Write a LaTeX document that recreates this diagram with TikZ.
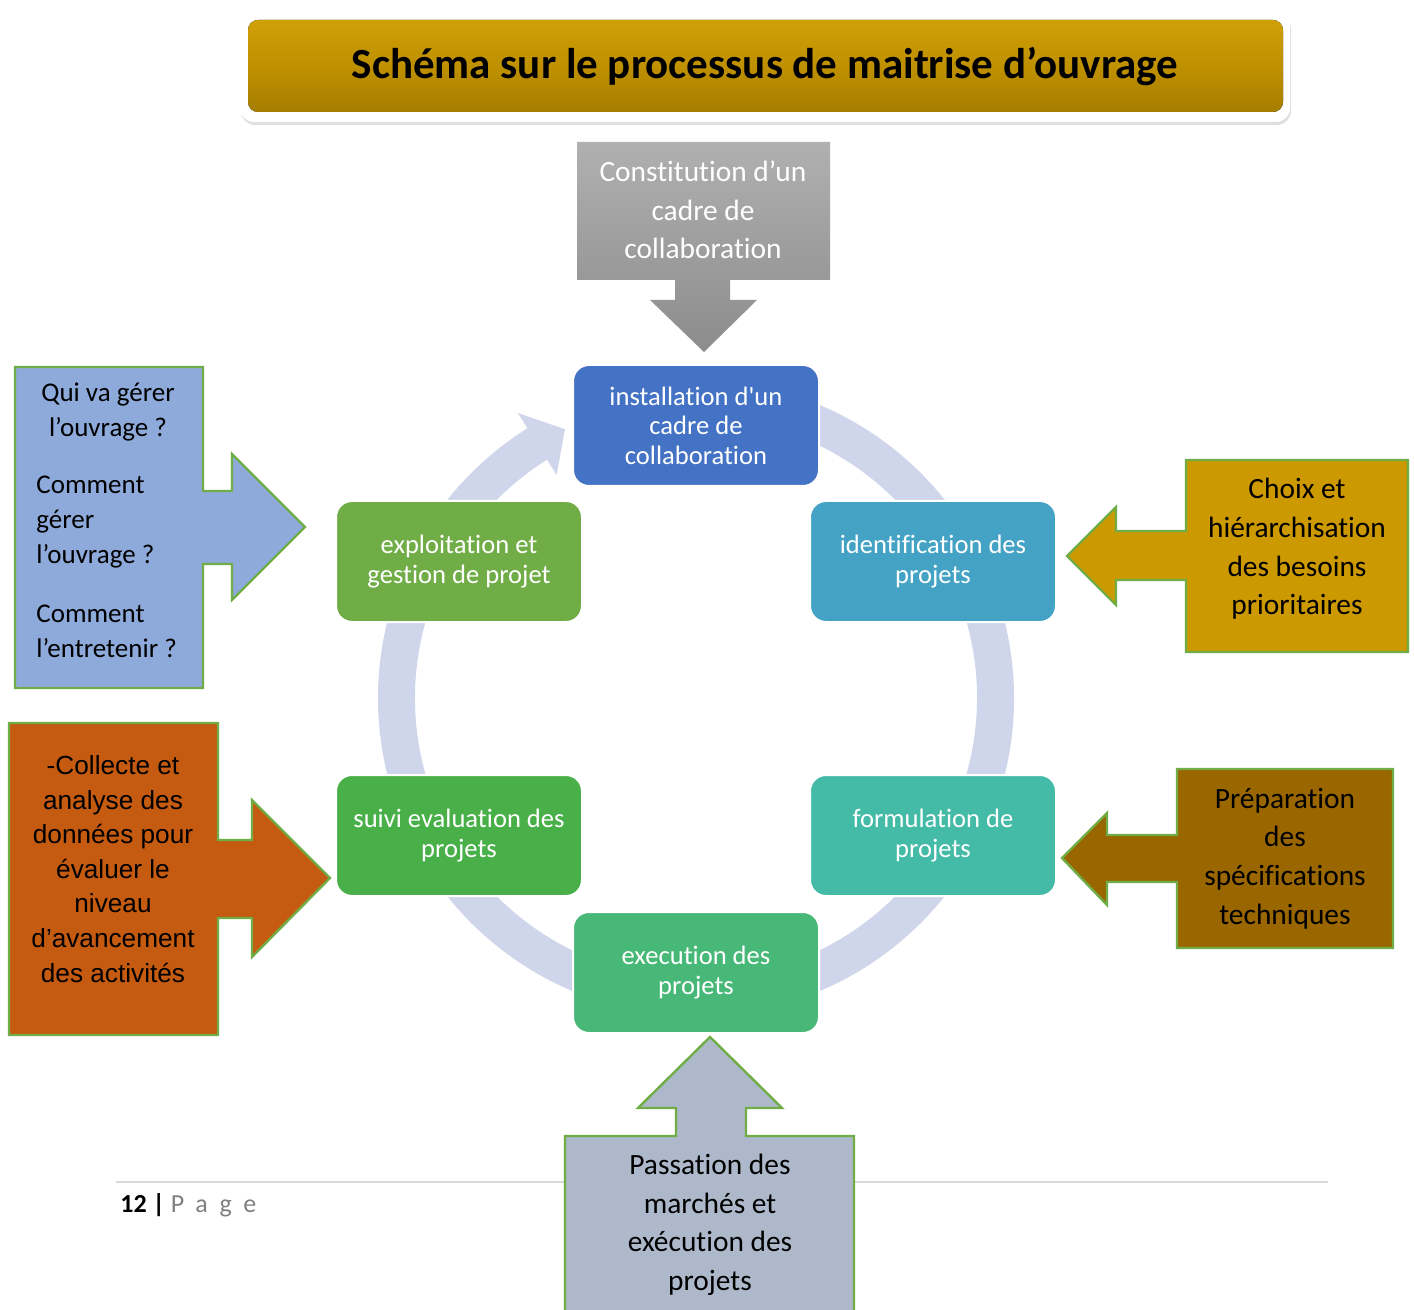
\documentclass[tikz,border=0pt]{standalone}
\usepackage{fontspec}
\setmainfont{Carlito}[Ligatures={TeX,NoCommon}]
\newfontfamily\tahomafont{Liberation Sans}
\usepackage{tikz}
\usetikzlibrary{shadows}

\begin{document}
\begin{tikzpicture}[x=0.5pt, y=-0.5pt,
  etape/.style={rectangle, rounded corners=8pt, draw=white, line width=1pt,
    minimum width=123pt, minimum height=60.5pt, inner sep=2pt,
    text=white, align=center, font=\fontsize{13.3}{14.75}\selectfont},
  bloc/.style={draw=bordVert, line width=1.2pt, line join=miter},
  texte/.style={inner sep=0pt, align=center, text=black,
    font=\fontsize{14.7}{19.3}\selectfont}]

% Couleurs
\definecolor{colTitre}{HTML}{BF9000}
\definecolor{colTitreHaut}{HTML}{CFA008}
\definecolor{colTitreBas}{HTML}{A67D00}
\definecolor{colGrisHaut}{HTML}{B0B0B0}
\definecolor{colGrisBas}{HTML}{8C8C8C}
\definecolor{colAnneau}{HTML}{CFD5EA}
\definecolor{colInstall}{HTML}{4472C4}
\definecolor{colIdent}{HTML}{44A3C4}
\definecolor{colFormul}{HTML}{44BBA7}
\definecolor{colExec}{HTML}{47B877}
\definecolor{colSuivi}{HTML}{49B049}
\definecolor{colExploit}{HTML}{70AD47}
\definecolor{bordVert}{HTML}{70AD47}
\definecolor{colBleu}{HTML}{8EAADB}
\definecolor{colOr}{HTML}{CC9900}
\definecolor{colOrange}{HTML}{C55A11}
\definecolor{colBrun}{HTML}{996600}
\definecolor{colAcier}{HTML}{ADB9CA}
\definecolor{colLigne}{HTML}{D9D9D9}
\definecolor{colPage}{HTML}{7F7F7F}

% Rayons de l'anneau
\def\rext{318}
\def\rint{281}

\useasboundingbox (0,0) rectangle (1414,1310);
\clip (0,0) rectangle (1414,1310);

% Titre
\fill[white, rounded corners=7pt, drop shadow={shadow xshift=0.5pt, shadow yshift=-1.5pt, opacity=0.25}]
  (240,12) rectangle (1290,122);
\fill[top color=colTitreHaut, bottom color=colTitreBas, middle color=colTitre, rounded corners=5pt]
  (248,20) rectangle (1283,112);
\node[font=\fontsize{21.5}{25}\selectfont\bfseries] (titre) at (765,67)
  {Schéma sur le processus de maitrise d’ouvrage};

% Fleche grise du haut
\path[top color=colGrisHaut, bottom color=colGrisBas]
  (577,142) -- (830,142) -- (830,280) -- (730,280) -- (730,300) -- (757,300)
  -- (704,352) -- (650,300) -- (675,300) -- (675,280) -- (577,280) -- cycle;
\node[texte, text=white] (cadre) at (703,210) {Constitution d’un\\cadre de\\collaboration};

% Anneau du cycle
\begin{scope}[shift={(696,698)}]
\fill[colAnneau] (260:\rext) arc[start angle=260, end angle=598, radius=\rext]
  -- (598:336) -- (604:299) -- (598:263) -- (598:\rint)
  arc[start angle=598, end angle=260, radius=\rint] -- cycle;
\end{scope}

% Etapes du cycle
\node[etape, fill=colInstall] (install) at (696,425.5) {installation d\textquotesingle un\\cadre de\\collaboration};
\node[etape, fill=colIdent] (ident) at (933,561.5) {identification des\\projets};
\node[etape, fill=colFormul] (formul) at (933,835.5) {formulation de\\projets};
\node[etape, fill=colExec] (exec) at (696,972.5) {execution des\\projets};
\node[etape, fill=colSuivi] (suivi) at (459,835.5) {suivi evaluation des\\projets};
\node[etape, fill=colExploit] (exploit) at (459,561.5) {exploitation et\\gestion de projet};

% Bloc bleu (gauche)
\filldraw[bloc, fill=colBleu] (15,367) -- (203,367) -- (203,491) -- (232,491) -- (232,454)
  -- (305,527) -- (232,600) -- (232,564) -- (203,564) -- (203,688) -- (15,688) -- cycle;
\node[texte, font=\fontsize{13.5}{17.5}\selectfont] (qui) at (108,412) {Qui va gérer\\l’ouvrage ?};
\node[texte, font=\fontsize{13.5}{17.5}\selectfont, align=left, anchor=west] (gerer) at (36,522)
  {Comment\\gérer\\l’ouvrage ?};
\node[texte, font=\fontsize{13.5}{17.5}\selectfont, align=left, anchor=west] (entretien) at (36,631)
  {Comment\\l’entretenir ?};

% Bloc or (droite)
\filldraw[bloc, fill=colOr] (1408,460) -- (1186,460) -- (1186,531) -- (1116,531) -- (1116,507)
  -- (1067,556) -- (1116,605) -- (1116,580) -- (1186,580) -- (1186,652) -- (1408,652) -- cycle;
\node[texte] (besoins) at (1297,549) {Choix et\\hiérarchisation\\des besoins\\prioritaires};

% Bloc orange (gauche)
\filldraw[bloc, fill=colOrange] (9,723) -- (218,723) -- (218,840) -- (252,840) -- (252,800)
  -- (330,878) -- (252,957) -- (252,918) -- (218,918) -- (218,1035) -- (9,1035) -- cycle;
\node[texte, font=\tahomafont\fontsize{13.1}{17.3}\selectfont] (collecte) at (113,869)
  {-Collecte et\\analyse des\\données pour\\évaluer le\\niveau\\d’avancement\\des activités};

% Bloc brun (droite)
\filldraw[bloc, fill=colBrun] (1393,769) -- (1177,769) -- (1177,835) -- (1107,835) -- (1107,813)
  -- (1062,858) -- (1107,905) -- (1107,882) -- (1177,882) -- (1177,948) -- (1393,948) -- cycle;
\node[texte] (specif) at (1285,858.5) {Préparation\\des\\spécifications\\techniques};

% Pied de page
\draw[colLigne, line width=1pt] (116,1182) -- (1328,1182);
\node[anchor=west, inner sep=0pt, font=\fontsize{13}{15}\selectfont] (page) at (120,1205)
  {\textbf{12 |} {\color{colPage}\addfontfeature{LetterSpace=45}Page}};

% Bloc du bas
\filldraw[bloc, fill=colAcier] (565,1330) -- (565,1136) -- (676,1136) -- (676,1108) -- (638,1108)
  -- (710,1037) -- (782,1108) -- (746,1108) -- (746,1136) -- (854,1136) -- (854,1330) -- cycle;
\node[texte] (passation) at (710,1225) {Passation des\\marchés et\\exécution des\\projets};

\end{tikzpicture}
\end{document}
